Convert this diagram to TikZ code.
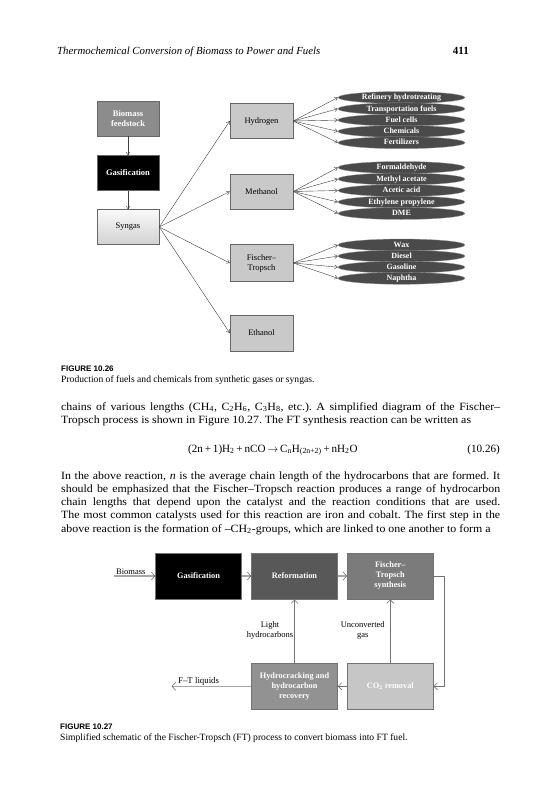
\documentclass[tikz,border=0pt]{standalone}
\usepackage{fontspec}
\setmainfont{Liberation Serif}
\newfontfamily\bodyfont{Liberation Serif}[FakeStretch=1.07]
\newfontfamily\capsans{Liberation Sans}
\usetikzlibrary{arrows.meta,shapes.geometric}
\definecolor{boxgray}{HTML}{C9C9C9}
\definecolor{bioGray}{HTML}{8C8C8C}
\definecolor{ellgray}{HTML}{4A4A4A}
\definecolor{refgray}{HTML}{585858}
\definecolor{ftgray}{HTML}{7B7B7B}
\definecolor{hydgray}{HTML}{929292}
\definecolor{cogray}{HTML}{C6C6C6}
\frenchspacing
\begin{document}
\begin{tikzpicture}[x=1pt,y=-1pt,
  boxa/.style={draw=black!60, line width=0.5pt, minimum width=62pt, minimum height=35pt, inner sep=1pt, align=center, font=\fontsize{8.5}{10}\selectfont},
  ell/.style={ellipse, fill=ellgray, draw=black!40, line width=0.3pt, minimum width=127pt, minimum height=12pt, inner sep=0pt, text height=5.5pt, text depth=1pt, text=white, font=\bfseries\fontsize{8}{8}\selectfont},
  thin/.style={draw=black!75, line width=0.4pt, -{Straight Barb[length=3pt,width=4pt]}},
  fbox/.style={draw=black!55, line width=0.5pt, minimum width=86pt, minimum height=46.5pt, inner sep=1pt, align=center, text=white, font=\bfseries\fontsize{8.3}{10}\selectfont},
  flow/.style={draw=black!35, line width=1.6pt, -{Straight Barb[length=3.5pt,width=8pt,line width=0.6pt,color=black!55]}},
  fb/.style={draw=black!55, line width=0.7pt, -{Straight Barb[length=3.5pt,width=7pt,line width=0.6pt]}},
  lbl/.style={align=center, inner sep=0pt, font=\fontsize{8.5}{10}\selectfont},
  body/.style={anchor=base west, inner sep=0pt, text width=439pt, align=justify, font=\bodyfont\fontsize{11.1}{13.3}\selectfont},
  capl/.style={anchor=base west, inner sep=0pt, font=\capsans\bfseries\fontsize{8}{9}\selectfont},
  capt/.style={anchor=base west, inner sep=0pt, font=\fontsize{9.6}{11}\selectfont}
]
\useasboundingbox[fill=white] (0,0) rectangle (558,800);

% header
\node (hdr) [anchor=base west, inner sep=0pt, font=\itshape\fontsize{10.8}{13}\selectfont] at (57,55) {Thermochemical Conversion of Biomass to Power and Fuels};
\node (pg) [anchor=base east, inner sep=0pt, font=\bfseries\fontsize{11}{13}\selectfont] at (469,55) {411};

% ---------- Figure 10.26 ----------
\node (bio) [boxa, fill=bioGray, text=white, font=\bfseries\fontsize{8.5}{10}\selectfont] at (128,118.5) {Biomass\\feedstock};
\node (gas) [boxa, fill=black, text=white, font=\bfseries\fontsize{8.5}{10}\selectfont] at (128,173) {Gasification};
\node (syn) [boxa, top color=white!96!gray, bottom color=black!18] at (128,227) {Syngas};

\node (h2) [boxa, fill=boxgray, minimum width=63pt] at (261.5,121) {Hydrogen};
\node (meoh) [boxa, fill=boxgray, minimum width=63pt] at (261.5,191.5) {Methanol};
\node (fts) [boxa, fill=boxgray, minimum width=63pt, minimum height=37pt] at (261.5,263) {Fischer–\\Tropsch};
\node (etoh) [boxa, fill=boxgray, minimum width=63pt, minimum height=36pt] at (261.5,333) {Ethanol};

\draw[thin] (bio) -- (gas);
\draw[thin] (gas) -- (syn);
\draw[thin] (syn.east) -- (h2.west);
\draw[thin] (syn.east) -- (meoh.west);
\draw[thin] (syn.east) -- (fts.west);
\draw[thin] (syn.east) -- (etoh.west);

\node (e1) [ell] at (401.5,97.5) {Refinery hydrotreating};
\node (e2) [ell] at (401.5,108.8) {Transportation fuels};
\node (e3) [ell] at (401.5,120.1) {Fuel cells};
\node (e4) [ell] at (401.5,131.4) {Chemicals};
\node (e5) [ell] at (401.5,142.7) {Fertilizers};
\foreach \e in {e1,e2,e3,e4,e5} \draw[thin] (h2.east) -- (\e.west);

\node (m1) [ell] at (401.5,167.5) {Formaldehyde};
\node (m2) [ell] at (401.5,179) {Methyl acetate};
\node (m3) [ell] at (401.5,190.5) {Acetic acid};
\node (m4) [ell] at (401.5,202) {Ethylene propylene};
\node (m5) [ell] at (401.5,213.5) {DME};
\foreach \e in {m1,m2,m3,m4,m5} \draw[thin] (meoh.east) -- (\e.west);

\node (f1) [ell] at (401.5,245) {Wax};
\node (f2) [ell] at (401.5,256.1) {Diesel};
\node (f3) [ell] at (401.5,267.2) {Gasoline};
\node (f4) [ell] at (401.5,278.3) {Naphtha};
\foreach \e in {f1,f2,f3,f4} \draw[thin] (fts.east) -- (\e.west);

\node (cap1a) [capl] at (61,371) {FIGURE 10.26};
\node (cap1b) [capt] at (61,382) {Production of fuels and chemicals from synthetic gases or syngas.};

% ---------- body text ----------
\node (p1) [body] at (61,410) {chains of various lengths (CH\textsubscript{4}, C\textsubscript{2}H\textsubscript{6}, C\textsubscript{3}H\textsubscript{8}, etc.). A simplified diagram of the Fischer–\linebreak Tropsch process is shown in Figure 10.27. The FT synthesis reaction can be written as};

\node (eq) [anchor=base west, inner sep=0pt, font=\fontsize{11.1}{13}\selectfont] at (188,452) {(2n\,+\,1)H\textsubscript{2}\,+\,nCO\,$\rightarrow$\,C\textsubscript{n}H\textsubscript{(2n+2)}\,+\,nH\textsubscript{2}O};
\node (eqn) [anchor=base east, inner sep=0pt, font=\fontsize{11.1}{13}\selectfont] at (500,452) {(10.26)};

\node (p2) [body] at (61,479) {\parfillskip=0pt \hyphenpenalty=10000 In the above reaction, \emph{n} is the average chain length of the hydrocarbons that are formed. It\linebreak should be emphasized that the Fischer–Tropsch reaction produces a range of hydrocarbon\linebreak chain lengths that depend upon the catalyst and the reaction conditions that are used.\linebreak The most common catalysts used for this reaction are iron and cobalt. The first step in the\linebreak above reaction is the formation of –CH\textsubscript{2}-groups, which are linked to one another to form a};

% ---------- Figure 10.27 ----------
\node (g2) [fbox, fill=black] at (198.5,576) {Gasification};
\node (ref) [fbox, fill=refgray] at (294.5,576) {Reformation};
\node (ft) [fbox, fill=ftgray] at (390.3,576) {Fischer–\\Tropsch\\synthesis};
\node (hyd) [fbox, fill=hydgray] at (294.5,686.3) {Hydrocracking and\\hydrocarbon\\recovery};
\node (co2) [fbox, fill=cogray] at (390.3,686.3) {CO\textsubscript{2} removal};

\coordinate (bioin) at (114,576);
\node (biolbl) [anchor=base west, inner sep=0pt, font=\fontsize{8.5}{10}\selectfont] at (116,574) {Biomass};
\draw[flow] (bioin) -- (g2.west);
\draw[flow] (g2.east) -- (ref.west);
\draw[flow] (ref.east) -- (ft.west);

\draw[fb] (ft.east) -- ++(11,0) |- (co2.east);
\draw[fb] (co2.west) -- (hyd.east);
\draw[fb] (hyd.north) -- (ref.south);
\draw[fb] (co2.north) -- (ft.south);

\node (lh) [lbl] at (270,630) {Light\\hydrocarbons};
\node (ug) [lbl] at (362.7,630) {Unconverted\\gas};

\coordinate (ftout) at (171.7,686.3);
\draw[flow] (hyd.west) -- (ftout);
\node (ftl) [anchor=base west, inner sep=0pt, font=\fontsize{8.8}{10}\selectfont] at (178,683) {F–T liquids};

\node (cap2a) [capl] at (60,729) {FIGURE 10.27};
\node (cap2b) [capt] at (60,740) {Simplified schematic of the Fischer-Tropsch (FT) process to convert biomass into FT fuel.};
\end{tikzpicture}
\end{document}
